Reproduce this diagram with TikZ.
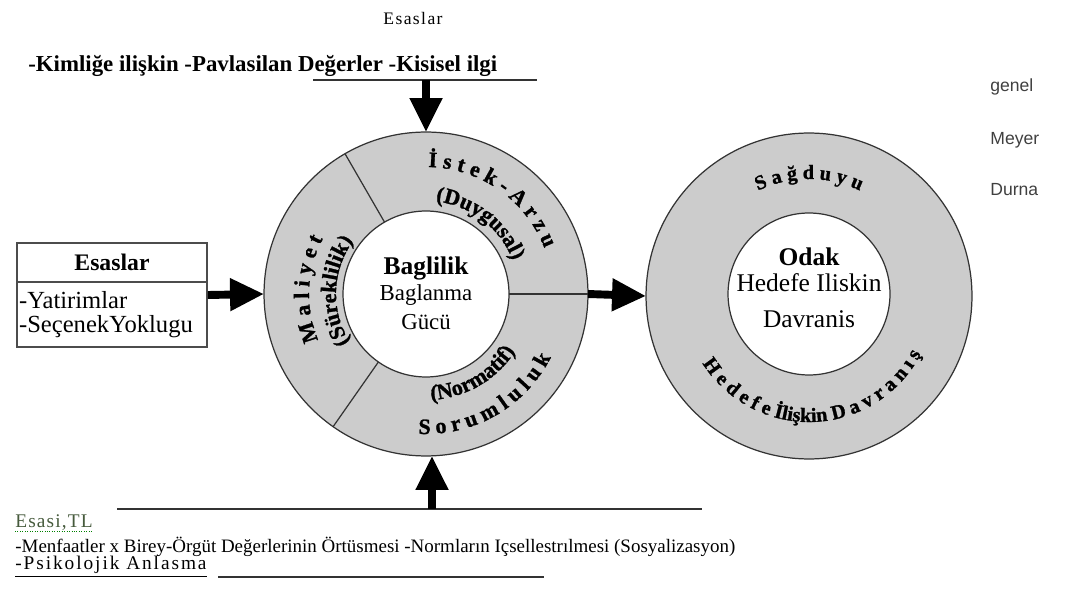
\documentclass[tikz,border=0pt]{standalone}
\usepackage{fontspec}
\setmainfont{Liberation Serif}
\newfontfamily\notefont{Liberation Sans}
\newfontfamily\heavyserif[FakeBold=1.2]{Liberation Serif Bold}
\usetikzlibrary{arrows.meta,decorations.text}

\tikzset{
	ring/.style={circle, draw=black!80, fill=black!20, line width=0.7pt, inner sep=0pt, outer sep=0pt},
	core/.style={circle, draw=black!80, fill=white, line width=0.7pt, inner sep=0pt, outer sep=0pt},
	fat/.style={line width=4.5pt, -{Triangle[length=0.68cm,width=0.62cm]}},
	bent/.style={decorate, decoration={text along path, text align=center, text={#1}}},
	rule/.style={line width=0.8pt, black!80},
	note/.style={anchor=west, inner sep=0pt, text=black!75},
}
\newcommand{\ringfont}{\fontsize{12.5}{14}\selectfont\heavyserif}
\newcommand{\goalfont}{\fontsize{11.5}{13}\selectfont\heavyserif}

\begin{document}
\begin{tikzpicture}[x=0.02cm, y=0.02cm]
				\useasboundingbox (0,0) rectangle (1067,-590);
				% top basis
				\node (topesas) at (413,-18) {\fontsize{10}{12}\selectfont\addfontfeature{LetterSpace=8}Esaslar};
				\node[anchor=west, inner sep=0pt] (toptext) at (28,-66) {\fontsize{13}{15}\selectfont\bfseries -Kimliğe ilişkin -Pavlasilan Değerler -Kisisel ilgi};
				\coordinate (tl) at (313,-80);
				\coordinate (tr) at (537,-80);
				% circles
				\node[ring, minimum size=6.48cm] (ring) at (426,-294) {};
				\node[core, minimum size=3.32cm] (inner) at (426,-294) {};
				\node[ring, minimum size=6.52cm] (goal) at (809,-296) {};
				\node[core, minimum size=3.24cm] (focus) at (809,-294) {};
				\draw[black!80, line width=0.7pt] (inner.120) -- (ring.120);
				\draw[black!80, line width=0.7pt] (inner.235) -- (ring.235);
				\draw[black!80, line width=0.7pt] (inner.0) -- (ring.0);
				% centre texts
				\node (bag) at (426,-268) {\fontsize{14.5}{16}\selectfont\bfseries Baglilik};
				\node (bagl) at (426,-295) {\fontsize{13}{15}\selectfont Baglanma};
				\node (guc) at (426,-322) {\fontsize{13}{15}\selectfont Gücü};
				\node (odak) at (809,-257) {\fontsize{14.5}{16}\selectfont\bfseries Odak};
				\node (hedef) at (809,-283) {\fontsize{14.5}{16}\selectfont Hedefe Iliskin};
				\node (davr) at (809,-319) {\fontsize{14.5}{16}\selectfont Davranis};
				% ring texts
				\path[bent={|\ringfont|M a l i y e t}] (ring.center) ++(225:117) arc[start angle=225, end angle=130, radius=117];
				\path[bent={|\ringfont|(Süreklilik)}] (ring.center) ++(230:90) arc[start angle=230, end angle=126, radius=90];
				\path[bent={|\ringfont|İ s t e k - A r z u}] (ring.center) ++(120:127) arc[start angle=120, end angle=-10, radius=127];
				\path[bent={|\ringfont|(Duygusal)}] (ring.center) ++(115:93) arc[start angle=115, end angle=-10, radius=93];
				\path[bent={|\ringfont|S o r u m l u l u k}] (ring.center) ++(240:140) arc[start angle=240, end angle=360, radius=140];
				\path[bent={|\ringfont|(Normatif)}] (ring.center) ++(245:106) arc[start angle=245, end angle=355, radius=106];
				\path[bent={|\goalfont|S a ğ d u y u}] (goal.center) ++(150:117) arc[start angle=150, end angle=30, radius=117];
				\path[bent={|\goalfont|H e d e f e  İlişkin  D a v r a n ı ş}] (goal.center) ++(195:126) arc[start angle=195, end angle=350, radius=126];
				% left basis box
				\node[draw=black!70, line width=1pt, minimum width=3.8cm, minimum height=2.08cm, inner sep=0pt] (basis) at (112,-295) {};
				\coordinate (hd) at (17,-282);
				\draw[black!70, line width=1pt] (basis.west |- hd) -- (basis.east |- hd);
				\node (boxhead) at (112,-262) {\fontsize{13.5}{15}\selectfont\bfseries Esaslar};
				\node[anchor=west, inner sep=1pt] (yat) at (17,-300) {\fontsize{14}{16}\selectfont -Yatirimlar};
				\node[anchor=west, inner sep=1pt] (sec) at (17,-327) {\fontsize{14}{16}\selectfont -SeçenekYoklugu};
				% bottom basis
				\coordinate (bl) at (117,-509);
				\coordinate (br) at (702,-509);
				\coordinate (bup) at (432,-509);
				\node[anchor=west, inner sep=0pt, text={rgb,255:red,70;green,90;blue,60}] (esasi) at (15,-523) {\fontsize{11}{13}\selectfont\addfontfeature{LetterSpace=6}Esasi,TL};
				\draw[densely dotted, green!50!black] (esasi.south west) -- (esasi.south east);
				\node[anchor=west, inner sep=0pt] (menf) at (15,-547) {\fontsize{10.8}{13}\selectfont -Menfaatler x Birey-Örgüt Değerlerinin Örtüsmesi -Normların Içsellestrılmesi (Sosyalizasyon)};
				\node[anchor=west, inner sep=0pt] (psik) at (15,-567) {\fontsize{11}{13}\selectfont\addfontfeature{LetterSpace=10}\underline{-Psikolojik Anlasma}};
				\coordinate (pl) at (218,-577);
				\coordinate (pr) at (544,-577);
				% notes
				\node[note] (genel) at (990,-87) {\notefont\fontsize{10}{12}\selectfont genel};
				\node[note] (meyer) at (990,-140) {\notefont\fontsize{10}{12}\selectfont Meyer};
				\node[note] (durna) at (990,-190) {\notefont\fontsize{10}{12}\selectfont Durna};
				% connectors
				\draw[rule] (tl) -- (tr);
				\draw[rule] (bl) -- (br);
				\draw[rule] (pl) -- (pr);
				\draw[fat] (tl -| ring.north) -- (ring.north);
				\draw[fat] (bup) -- (bup |- ring.south);
				\draw[fat] (basis.east) -- (ring.west);
				\draw[fat] (ring.east) -- (goal.west);
			\end{tikzpicture}
\end{document}
